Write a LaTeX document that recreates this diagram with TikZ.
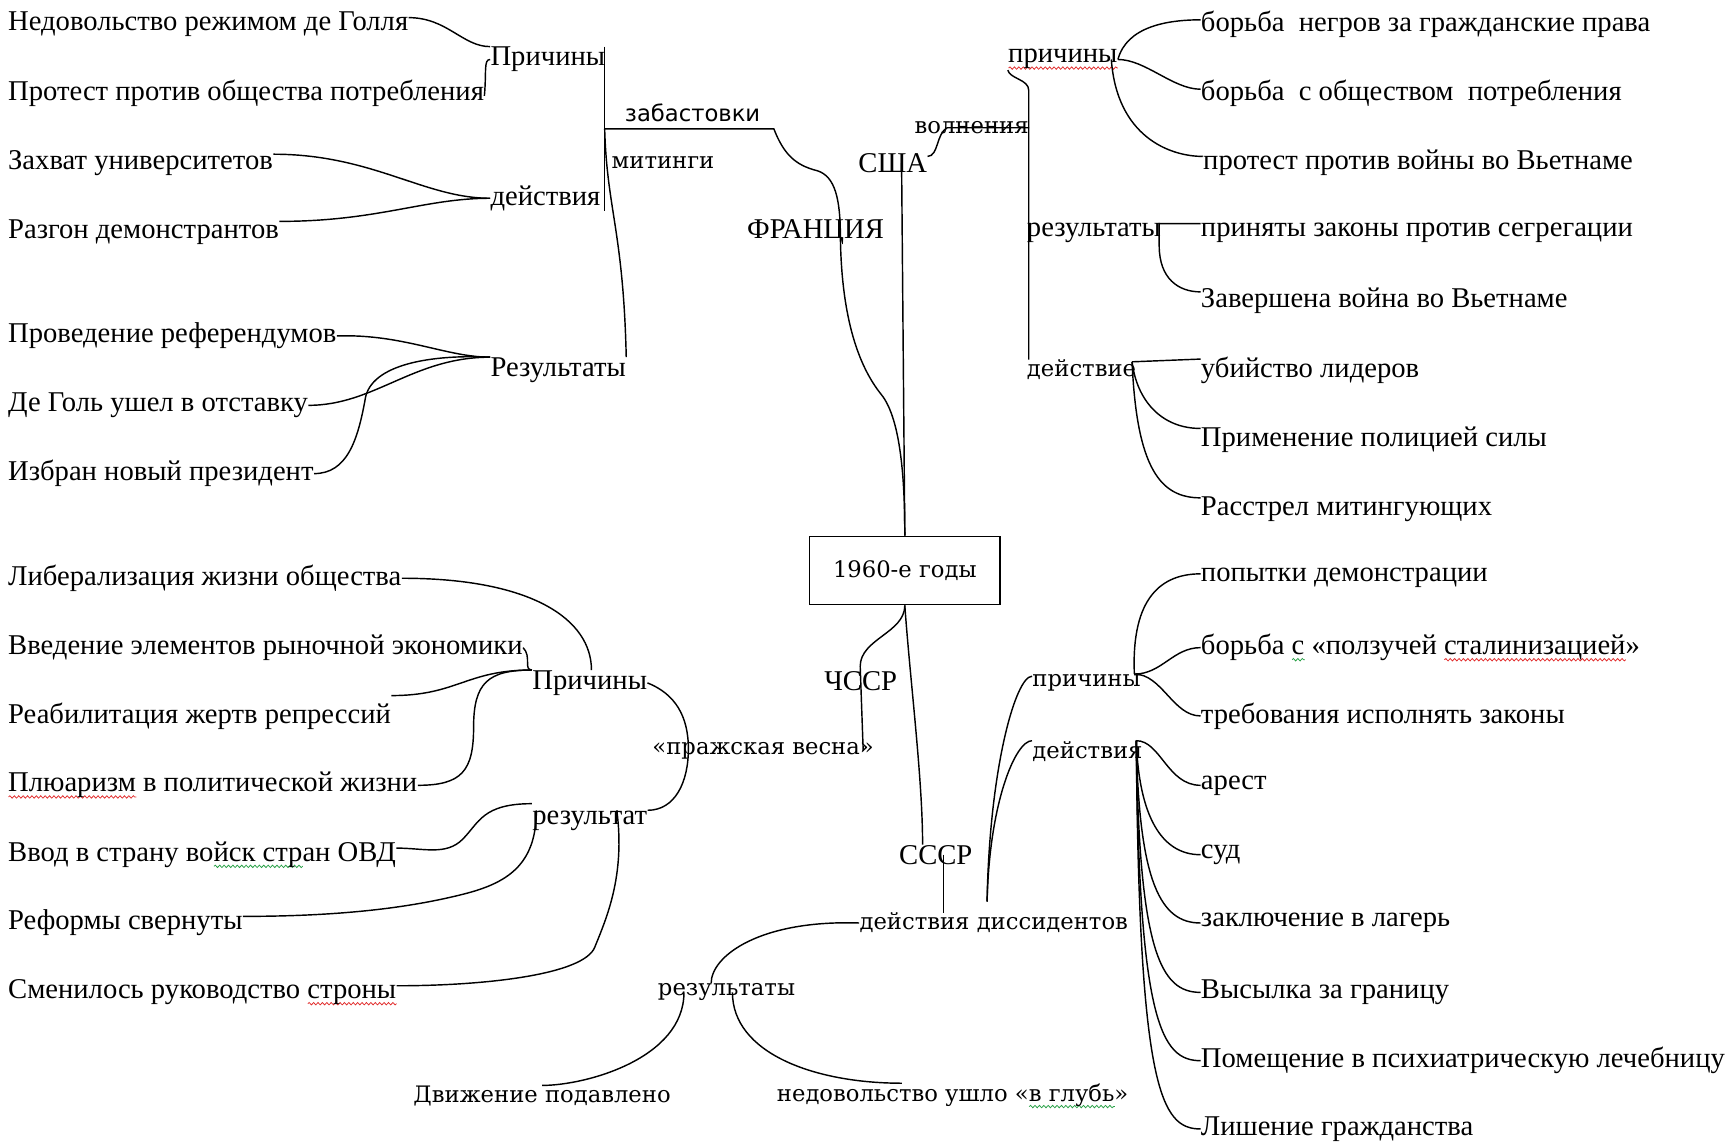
\documentclass[tikz,border=0pt]{standalone}
\usepackage{fontspec}
\setmainfont{Liberation Serif}
\newfontfamily\widefont{DejaVu Serif}
\newfontfamily\strikefont{DejaVu Sans}
\usetikzlibrary{calc, decorations.pathmorphing}
\definecolor{SpellRed}{RGB}{225, 45, 45}
\definecolor{GrammarGreen}{RGB}{40, 160, 70}

% волнистое подчёркивание, как в Word
\newlength\wavelen
\newcommand\spellwave[2]{\settowidth\wavelen{#2}\rlap{\tikz[baseline=0pt, x=1pt, y=1pt]
    \draw[#1, line width=0.35pt, decorate, decoration={snake, amplitude=0.55pt, segment length=2pt}]
    (0pt,-2.4pt) -- (\wavelen,-2.4pt);}#2}

\tikzset{
  leaf/.style={anchor=west, inner sep=0pt, font=\fontsize{13}{15}\selectfont},
  hub/.style={anchor=west, inner sep=0pt, font=\widefont\fontsize{10.3}{12}\selectfont},
  strike/.style={anchor=west, inner sep=0pt, font=\strikefont\fontsize{10.3}{12}\selectfont},
  link/.style={draw=black, line width=0.65pt},
}

\begin{document}
\begin{tikzpicture}[x=0.5pt, y=-0.5pt]
    \useasboundingbox (0,0) rectangle (1568,1040);

    % Центр
    \node[draw, line width=0.65pt, minimum width=86.5pt, minimum height=31pt, inner sep=0pt,
          font=\widefont\fontsize{10.3}{12}\selectfont] (box) at (821.5,518) {1960-е годы};

    % Франция
    \node[leaf] (frA) at (7,22) {Недовольство режимом де Голля};
    \node[leaf] (frB) at (7,85) {Протест против общества потребления};
    \node[leaf] (frC) at (7,148) {Захват университетов};
    \node[leaf] (frD) at (7,211) {Разгон демонстрантов};
    \node[leaf] (frE) at (7,305) {Проведение референдумов};
    \node[leaf] (frF) at (7,368) {Де Голь ушел в отставку};
    \node[leaf] (frG) at (7,430) {Избран новый президент};
    \node[leaf] (frCause) at (445,54) {Причины};
    \node[leaf] (frAct) at (445,180) {действия};
    \node[leaf] (frRes) at (445,336) {Результаты};
    \node[strike] (frStrike) at (567,102) {забастовки};
    \node[hub] (frRally) at (555,148) {митинги};
    \node[leaf] (fr) at (678,211) {ФРАНЦИЯ};
    \coordinate (frJoin) at (549,117);

    \draw[link] ([yshift=3pt]frA.east) .. controls +(35,0) and +(-25,0) .. (frCause.north west);
    \draw[link] ([yshift=-1pt]frB.east) .. controls +(2,-22) and +(-6,0) .. (frCause.west);
    \draw[link] ([yshift=4pt]frC.east) .. controls +(90,0) and +(-60,0) .. (frAct.west);
    \draw[link] ([yshift=5pt]frD.east) .. controls +(90,0) and +(-60,0) .. (frAct.west);
    \draw[link] (frE.east) .. controls +(60,-2) and +(-40,0) .. (frRes.north west);
    \draw[link] (frF.east) .. controls +(60,0) and +(-70,0) .. (frRes.north west);
    \draw[link] (frG.east) .. controls +(30,0) and (325,400) .. (332,360)
        .. controls (340,328) and (400,322) .. (frRes.north west);
    \draw[link] (frJoin |- frCause.north) -- (frJoin |- frAct.south);
    \draw[link] (frJoin) .. controls (551,190) and (566,210) .. (frRes.north east);
    \draw[link] (frJoin) -- ([xshift=6pt]frStrike.south east |- frJoin)
        .. controls +(9,23) and +(-20,-5) .. (742,155)
        .. controls +(16,5) and +(0,-35) .. (763,215)
        .. controls +(1,75) and +(-20,-25) .. (800,358)
        .. controls +(18,22) and +(0,-50) .. (box.north);

    % США
    \node[leaf] (usa) at (779,148) {США};
    \node[hub] (usaUnrest) at (830,116) {волнения};
    \node[leaf] (usaCause) at (915,54) {\spellwave{SpellRed}{причины}};
    \node[leaf] (usaRes) at (932,211) {результаты};
    \node[hub] (usaAct) at (932,336) {действие};
    \node[leaf] (usaC1) at (1090,22) {борьба~ негров за гражданские права};
    \node[leaf] (usaC2) at (1090,85) {борьба~ с обществом~ потребления};
    \node[leaf] (usaC3) at (1092,148) {протест против войны во Вьетнаме};
    \node[leaf] (usaR1) at (1090,211) {приняты законы против сегрегации};
    \node[leaf] (usaR2) at (1090,273) {Завершена война во Вьетнаме};
    \node[leaf] (usaA1) at (1090,336) {убийство лидеров};
    \node[leaf] (usaA2) at (1090,399) {Применение полицией силы};
    \node[leaf] (usaA3) at (1090,462) {Расстрел митингующих};
    \coordinate (usaSpine) at (934,82);
    \coordinate (usaResFork) at ([xshift=-1pt,yshift=4pt]usaRes.east);
    \coordinate (usaFork) at ([xshift=-2pt,yshift=-1pt]usaAct.north east);

    \draw[link] ([xshift=4pt]usa.center) -- (box.north);
    \draw[link] ([yshift=3pt]usa.east) .. controls +(10,0) and +(-10,5) .. ([xshift=15pt]usaUnrest.west) -- (usaUnrest.east);
    \draw[link] (usaCause.south west) .. controls +(2,8) and +(0,-10) .. (usaSpine) -- (usaSpine |- usaAct.north);
    \draw[link] (usaCause.east) .. controls +(8,-30) and +(-30,0) .. ([yshift=2pt]usaC1.west);
    \draw[link] (usaCause.east) .. controls +(25,0) and +(-25,0) .. ([yshift=2pt]usaC2.west);
    \draw[link] ([xshift=-3pt]usaCause.east) .. controls +(5,70) and +(-30,0) .. ([yshift=3pt]usaC3.west);
    \draw[link] ([yshift=4pt]usaR1.west) -- (usaResFork) -- ++(0,20)
        .. controls +(0,30) and +(-20,0) .. ([yshift=4pt]usaR2.west);
    \draw[link] (usaFork) -- ([yshift=5pt]usaA1.west);
    \foreach \n in {usaA2,usaA3}
        \draw[link] (usaFork) .. controls ([xshift=-29pt,yshift=18pt]\n.west) and ([xshift=-18pt,yshift=5pt]\n.west) .. ([yshift=5pt]\n.west);

    % ЧССР
    \node[leaf] (cz) at (748,618) {ЧССР};
    \node[hub] (czSpring) at (592,682) {«пражская весна»};
    \node[leaf] (czCause) at (483,620) {Причины};
    \node[leaf] (czRes) at (483,745) {результат};
    \node[leaf] (czA) at (7,525) {Либерализация жизни общества};
    \node[leaf] (czB) at (7,588) {Введение элементов рыночной экономики};
    \node[leaf] (czC) at (7,650) {Реабилитация жертв репрессий};
    \node[leaf] (czD) at (7,713) {\spellwave{SpellRed}{Плюаризм} в политической жизни};
    \node[leaf] (czE) at (7,776) {Ввод в страну во\spellwave{GrammarGreen}{йск стр}ан ОВД};
    \node[leaf] (czF) at (7,838) {Реформы свернуты};
    \node[leaf] (czG) at (7,901) {Сменилось руководство \spellwave{SpellRed}{строны}};

    \draw[link] (box.south) .. controls +(0,25) and +(0,-25) .. (781,605) -- ([xshift=-5pt,yshift=-4pt]czSpring.north east);
    \draw[link] (czA.east) .. controls +(120,0) and +(0,-45) .. ([xshift=27pt]czCause.north west);
    \draw[link] (czB.east) .. controls +(8,8) and +(-8,0) .. (czCause.north west);
    \draw[link] ([yshift=3pt]czC.north east) .. controls +(60,0) and +(-60,0) .. (czCause.north west);
    \draw[link] (czD.east) .. controls +(40,0) and +(0,40) .. (430,660)
        .. controls +(0,-40) and +(-40,0) .. (czCause.north west);
    \draw[link] (czCause.east) .. controls +(25,10) and +(0,-30) .. (625,680)
        .. controls +(0,30) and +(25,0) .. (czRes.north east);
    \draw[link] ([yshift=3pt]czRes.north west) .. controls +(-45,0) and +(15,-15) .. (420,762)
        .. controls +(-15,15) and +(25,0) .. ([yshift=3pt]czE.east);
    \draw[link] ([xshift=2pt]czRes.north west) .. controls +(0,50) and +(40,-10) .. (420,812)
        .. controls +(-40,10) and +(100,0) .. ([yshift=3pt]czF.east);
    \draw[link] ([xshift=-14pt]czRes.north east) .. controls +(8,60) and +(10,-25) .. (540,860)
        .. controls +(-10,25) and +(80,0) .. ([yshift=3pt]czG.east);

    % СССР
    \node[leaf] (ussr) at (816,776) {СССР};
    \node[hub] (ussrDis) at (780,838) {действия диссидентов};
    \node[hub] (ussrRes) at (597,901) {результаты};
    \node[hub] (ussrMove) at (375,995) {Движение подавлено};
    \node[hub] (ussrDeep) at (705,995) {недовольство ушло «\spellwave{GrammarGreen}{в глубь}»};
    \node[hub] (ussrCause) at (937,620) {причины};
    \node[hub] (ussrAct) at (937,682) {действия};
    \node[leaf] (ussrC1) at (1090,525) {попытки демонстрации};
    \node[leaf] (ussrC2) at (1090,588) {борьба \spellwave{GrammarGreen}{с} «ползучей \spellwave{SpellRed}{сталинизацией}»};
    \node[leaf] (ussrC3) at (1090,650) {требования исполнять законы};
    \node[leaf] (ussrA1) at (1090,713) {арест};
    \node[leaf] (ussrA2) at (1090,776) {суд};
    \node[leaf] (ussrA3) at (1090,838) {заключение в лагерь};
    \node[leaf] (ussrA4) at (1090,901) {Высылка за границу};
    \node[leaf] (ussrA5) at (1090,963) {Помещение в психиатрическую лечебницу};
    \node[leaf] (ussrA6) at (1090,1025) {Лишение гражданства};
    \coordinate (ussrDisTop) at ([xshift=-3pt,yshift=5pt]ussrDis.north);
    \coordinate (ussrCauseFork) at ([xshift=-3pt,yshift=4pt]ussrCause.east);
    \coordinate (ussrFork) at ([xshift=-3pt]ussrAct.north east);

    \draw[link] (box.south) .. controls +(5,70) and +(0,-60) .. ([xshift=-6pt]ussr.north);
    \draw[link] ([xshift=3.5pt]ussr.center) -- ([xshift=3.5pt]ussr.center |- ussrDis.north);
    \draw[link] (ussrDisTop) .. controls +(2,-120) and +(-15,0) .. ([yshift=-1pt]ussrCause.north west);
    \draw[link] (ussrDisTop) .. controls +(2,-90) and +(-15,0) .. (ussrAct.north west);
    \draw[link] (ussrDis.west) .. controls +(-90,-3) and +(0,-25) .. ([xshift=-7pt]ussrRes.north);
    \draw[link] ([xshift=12pt]ussrRes.west) .. controls +(0,60) and +(40,0) .. (ussrMove.north);
    \draw[link] ([xshift=34pt]ussrRes.west) .. controls +(0,55) and +(-80,0) .. ([xshift=-23pt]ussrDeep.north);
    \draw[link] (ussrCauseFork) .. controls +(-3,-70) and +(-35,0) .. ([yshift=2pt]ussrC1.west);
    \draw[link] (ussrCauseFork) .. controls +(25,0) and +(-25,0) .. (ussrC2.west);
    \draw[link] (ussrCauseFork) .. controls +(25,0) and +(-25,0) .. (ussrC3.west);
    \draw[link] (ussrFork) .. controls +(22,0) and +(-30,0) .. (ussrA1.west);
    \foreach \n in {ussrA2,ussrA3,ussrA4,ussrA5,ussrA6}
        \draw[link] (ussrFork) .. controls ([xshift=-28pt,yshift=18pt]\n.west) and ([xshift=-18pt]\n.west) .. (\n.west);
\end{tikzpicture}
\end{document}
